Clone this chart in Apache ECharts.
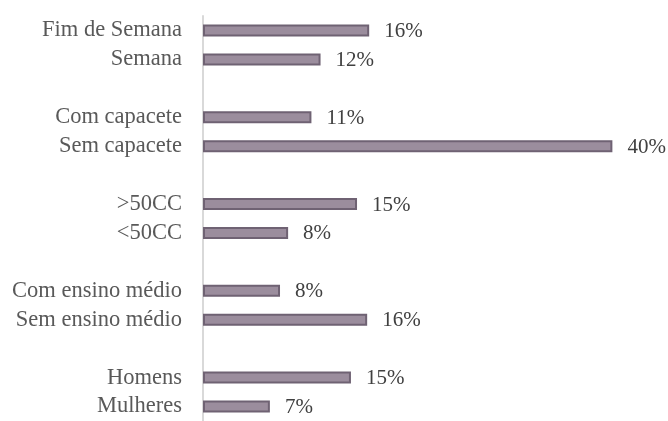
<!DOCTYPE html>
<html>
<head>
<meta charset="utf-8">
<script src="https://cdn.jsdelivr.net/npm/echarts@6/dist/echarts.min.js"></script>
<style>
  html, body { margin: 0; padding: 0; background: #fff; }
  #chart { width: 668px; height: 421px; }
</style>
</head>
<body>
<div id="chart"></div>
<script>
// top to bottom; blank names are the gaps between groups
const categories = [
    "Fim de Semana", "Semana", " ",
    "Com capacete", "Sem capacete", "  ",
    ">50CC", "<50CC", "   ",
    "Com ensino médio", "Sem ensino médio", "    ",
    "Homens", "Mulheres"
];
const values = [
    16.4, 11.6, null,
    10.7, 40.4, null,
    15.2, 8.4, null,
    7.6, 16.2, null,
    14.6, 6.6
];
const valueLabels = [
    "16%", "12%", "",
    "11%", "40%", "",
    "15%", "8%", "",
    "8%", "16%", "",
    "15%", "7%"
];

const chart = echarts.init(document.getElementById("chart"));
const serif = "'Liberation Serif', 'Times New Roman', serif";

chart.setOption({
    animation: false,
    grid: {
        left: 203,
        width: 456,
        top: 16,
        height: 409,
    },
    xAxis: {
        type: "value",
        min: 0,
        max: 45,
        show: false,
    },
    yAxis: {
        type: "category",
        inverse: true,
        data: categories,
        axisLine: { show: true, lineStyle: { color: "#d9d9d9", width: 2 } },
        axisTick: { show: false },
        axisLabel: {
            interval: 0,
            hideOverlap: false,
            color: "#595959",
            fontFamily: serif,
            fontSize: 22.5,
            margin: 21,
        },
    },
    series: [
        {
            type: "bar",
            barWidth: 12,
            data: values,
            itemStyle: {
                color: "#9b8d9d",
                borderColor: "#6f6273",
                borderWidth: 2,
            },
            label: {
                show: true,
                position: "right",
                distance: 15,
                offset: [0, 1],
                color: "#404040",
                fontFamily: serif,
                fontSize: 21,
                formatter: (p) => valueLabels[p.dataIndex],
            },
        },
    ],
});
</script>
</body>
</html>
